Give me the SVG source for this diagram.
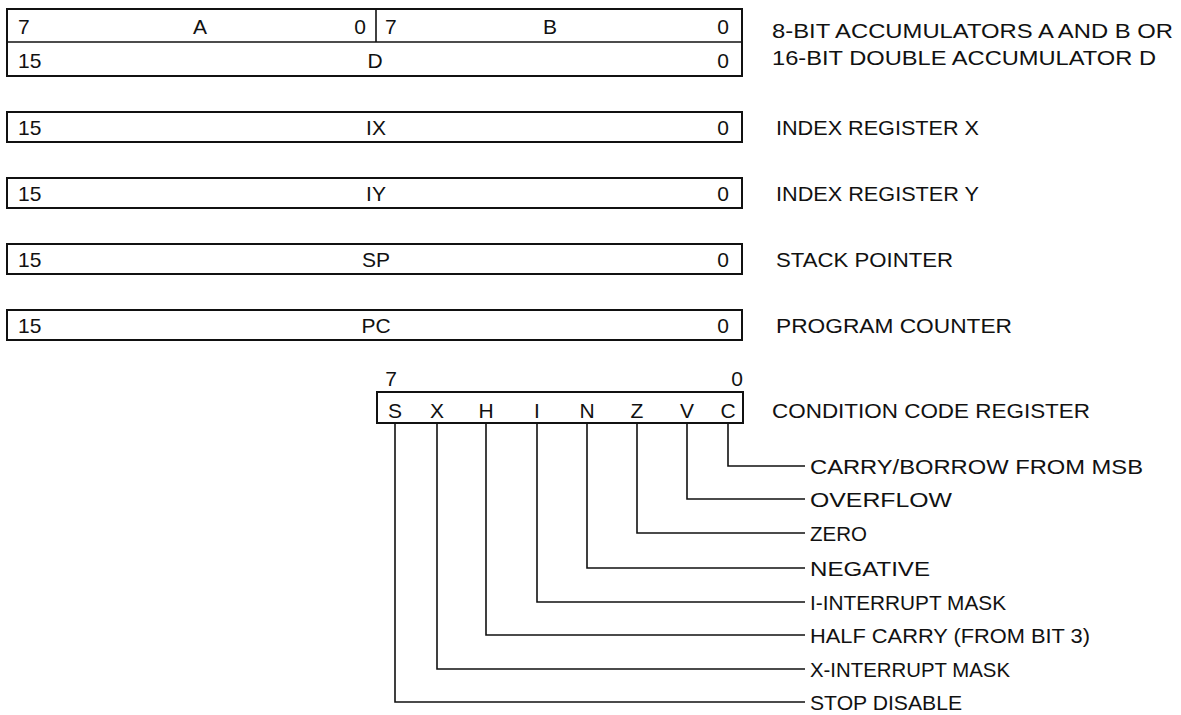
<svg xmlns="http://www.w3.org/2000/svg" width="1181" height="715" viewBox="0 0 1181 715">
<style>
  text { font-family: "Liberation Sans", Arial, sans-serif; font-size: 21px; fill: #111; }
  .m { text-anchor: middle; }
  .box { fill: #fff; stroke: #111; stroke-width: 2; }
  .ln { fill: none; stroke: #111; stroke-width: 1.6; }
</style>
<rect width="1181" height="715" fill="#fff"/>

<g id="acc">
  <rect class="box" x="7" y="9" width="735" height="67"/>
  <line class="ln" x1="7" y1="42" x2="742" y2="42"/>
  <line class="ln" x1="376" y1="9" x2="376" y2="42"/>
  <text x="18" y="34">7</text>
  <text class="m" x="200" y="34">A</text>
  <text class="m" x="360" y="34">0</text>
  <text x="385" y="34">7</text>
  <text class="m" x="550" y="34">B</text>
  <text class="m" x="723" y="34">0</text>
  <text x="18" y="68">15</text>
  <text class="m" x="375" y="68">D</text>
  <text class="m" x="723" y="68">0</text>
  <text x="772" y="38" textLength="401" lengthAdjust="spacingAndGlyphs">8-BIT ACCUMULATORS A AND B OR</text>
  <text x="772" y="65" textLength="384" lengthAdjust="spacingAndGlyphs">16-BIT DOUBLE ACCUMULATOR D</text>
</g>

<g id="ix">
  <rect class="box" x="7" y="112" width="735" height="30"/>
  <text x="18" y="135">15</text>
  <text class="m" x="376" y="135">IX</text>
  <text class="m" x="723" y="135">0</text>
  <text x="776" y="135" textLength="203" lengthAdjust="spacingAndGlyphs">INDEX REGISTER X</text>
</g>

<g id="iy">
  <rect class="box" x="7" y="178" width="735" height="30"/>
  <text x="18" y="201">15</text>
  <text class="m" x="376" y="201">IY</text>
  <text class="m" x="723" y="201">0</text>
  <text x="776" y="201" textLength="203" lengthAdjust="spacingAndGlyphs">INDEX REGISTER Y</text>
</g>

<g id="sp">
  <rect class="box" x="7" y="244" width="735" height="30"/>
  <text x="18" y="267">15</text>
  <text class="m" x="376" y="267">SP</text>
  <text class="m" x="723" y="267">0</text>
  <text x="776" y="267" textLength="177" lengthAdjust="spacingAndGlyphs">STACK POINTER</text>
</g>

<g id="pc">
  <rect class="box" x="7" y="310" width="735" height="30"/>
  <text x="18" y="333">15</text>
  <text class="m" x="376" y="333">PC</text>
  <text class="m" x="723" y="333">0</text>
  <text x="776" y="333" textLength="236" lengthAdjust="spacingAndGlyphs">PROGRAM COUNTER</text>
</g>

<g id="ccr">
  <text class="m" x="391" y="386">7</text>
  <text class="m" x="737" y="386">0</text>
  <rect class="box" x="377" y="392" width="366" height="31"/>
  <text class="m" x="395" y="418">S</text>
  <text class="m" x="437" y="418">X</text>
  <text class="m" x="486" y="418">H</text>
  <text class="m" x="537" y="418">I</text>
  <text class="m" x="587" y="418">N</text>
  <text class="m" x="637" y="418">Z</text>
  <text class="m" x="687" y="418">V</text>
  <text class="m" x="728" y="418">C</text>
  <text x="772" y="418" textLength="318" lengthAdjust="spacingAndGlyphs">CONDITION CODE REGISTER</text>
</g>

<g id="connectors">
  <polyline class="ln" points="728,423 728,466 805,466"/>
  <polyline class="ln" points="687,423 687,499 805,499"/>
  <polyline class="ln" points="637,423 637,533 805,533"/>
  <polyline class="ln" points="587,423 587,568 805,568"/>
  <polyline class="ln" points="537,423 537,602 805,602"/>
  <polyline class="ln" points="486,423 486,635 805,635"/>
  <polyline class="ln" points="437,423 437,669 805,669"/>
  <polyline class="ln" points="395,423 395,702 805,702"/>
</g>

<g id="bit-labels">
  <text x="810" y="474" textLength="333" lengthAdjust="spacingAndGlyphs">CARRY/BORROW FROM MSB</text>
  <text x="810" y="507" textLength="142" lengthAdjust="spacingAndGlyphs">OVERFLOW</text>
  <text x="810" y="541" textLength="57" lengthAdjust="spacingAndGlyphs">ZERO</text>
  <text x="810" y="576" textLength="120" lengthAdjust="spacingAndGlyphs">NEGATIVE</text>
  <text x="810" y="610" textLength="196" lengthAdjust="spacingAndGlyphs">I-INTERRUPT MASK</text>
  <text x="810" y="643" textLength="280" lengthAdjust="spacingAndGlyphs">HALF CARRY (FROM BIT 3)</text>
  <text x="810" y="677" textLength="200" lengthAdjust="spacingAndGlyphs">X-INTERRUPT MASK</text>
  <text x="810" y="710" textLength="152" lengthAdjust="spacingAndGlyphs">STOP DISABLE</text>
</g>
</svg>
